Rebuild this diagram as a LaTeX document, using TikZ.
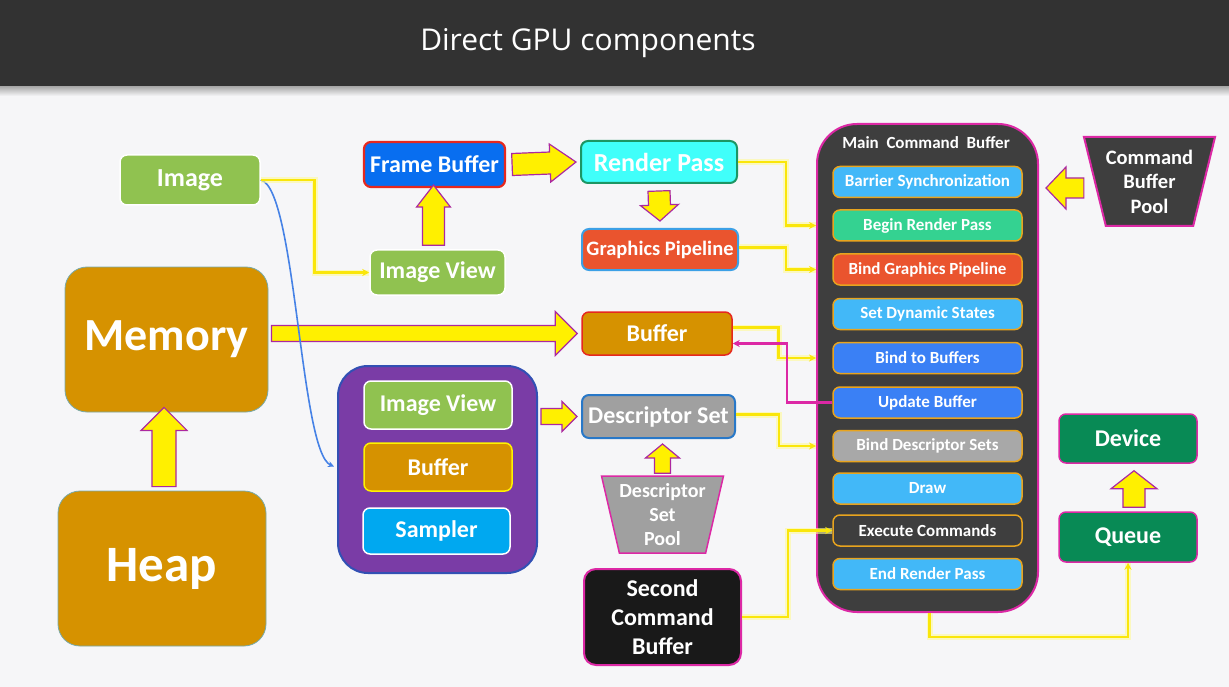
\documentclass[tikz,border=0pt]{standalone}
\usepackage{fontspec}
\setmainfont{Carlito}
\newfontfamily\titlefont{Open Sans}
\usepackage{xcolor}
\usetikzlibrary{
    arrows.meta,
    shapes,
    positioning,
    calc
}
\definecolor{pagebg}{RGB}{246,246,248}
\definecolor{titlebar}{RGB}{50,50,50}
\definecolor{imggreen}{RGB}{144,194,80}
\definecolor{gold}{RGB}{214,146,0}
\definecolor{fbblue}{RGB}{8,110,240}
\definecolor{rpcyan}{RGB}{64,255,250}
\definecolor{rpgreen}{RGB}{28,150,100}
\definecolor{gpred}{RGB}{234,84,46}
\definecolor{gpblue}{RGB}{60,160,230}
\definecolor{redline}{RGB}{230,40,30}
\definecolor{grpurple}{RGB}{122,60,166}
\definecolor{grblue}{RGB}{50,80,180}
\definecolor{smpblue}{RGB}{0,168,240}
\definecolor{dsgray}{RGB}{160,160,160}
\definecolor{dsblue}{RGB}{40,120,200}
\definecolor{cmdgray}{RGB}{62,62,62}
\definecolor{pink}{RGB}{220,40,165}
\definecolor{itemline}{RGB}{232,164,30}
\definecolor{itemsky}{RGB}{66,184,248}
\definecolor{itemgreen}{RGB}{52,210,145}
\definecolor{itemblue}{RGB}{58,128,245}
\definecolor{itemgray}{RGB}{168,168,168}
\definecolor{devgreen}{RGB}{8,138,85}
\definecolor{fatyellow}{RGB}{255,240,0}
\definecolor{fatline}{RGB}{172,40,160}
\definecolor{feedyellow}{RGB}{250,230,10}
\definecolor{curveblue}{RGB}{70,130,230}
\definecolor{memline}{RGB}{120,170,170}

\newcommand{\fsz}[1]{\fontsize{#1}{#1}\selectfont}
% block arrow: tail, tip, shaft half width, head half width, head length
\newcommand{\fatarrow}[5]{%
    \draw[fat] let \p1=#1, \p2=#2,
        \n1={atan2(\y2-\y1,\x2-\x1)}, \n2={veclen(\x2-\x1,\y2-\y1)} in
        {[shift={(\p1)}, rotate=\n1]
        (0,-#3) -- ({\n2-#5},-#3) -- ({\n2-#5},-#4) -- (\n2,0)
        -- ({\n2-#5},#4) -- ({\n2-#5},#3) -- (0,#3) -- cycle};
}

\tikzset{%
    >={Stealth[width=7pt,length=7pt]},
    % Specifications for style of nodes:
    plain/.style = {},
    base/.style = {
        plain,
        rectangle, rounded corners=7pt, draw=white, line width=1.5pt,
        text centered, font=\bfseries, text=white,
        fill=white, align=center, inner sep=0pt
    },
    green/.style = {base, fill=imggreen},
    golden/.style = {base, fill=gold, draw=memline, line width=.8pt, rounded corners=22pt},
    item/.style = {base, draw=itemline, minimum width=189pt, minimum height=31pt,
        font=\bfseries\fsz{17}},
    pool/.style = {base, trapezium, shape border rotate=180, draw=pink,
        trapezium stretches=true, rounded corners=0pt},
    gpu/.style = {base, fill=devgreen, draw=pink, minimum width=138pt,
        minimum height=49pt, font=\bfseries\fsz{24}},
    % Specifications for style of connectors:
    fat/.style = {draw=fatline, fill=fatyellow, line width=1.2pt},
    feed/.style = {draw=feedyellow, line width=2.6pt, ->,
        preaction={draw=yellow!40, line width=6pt, -, opacity=.6}}
}

\begin{document}
\begin{tikzpicture}[x=1pt, y=-1pt]
    \useasboundingbox (0,0) rectangle (1229,687);
    \fill[pagebg] (0,0) rectangle (1229,687);
    \shade[top color=black!35, bottom color=pagebg] (0,86) rectangle (1229,96);
    \fill[titlebar] (0,0) rectangle (1229,86);
    \node[text=white, font=\titlefont\fsz{30}] (title) at (588,43) {Direct GPU components};

    % sources of images and memory
    \node[green, minimum width=140pt, minimum height=50pt, font=\bfseries\fsz{26}] (img) at (190,180) {Image};
    \node[green, minimum width=135pt, minimum height=45pt, font=\bfseries\fsz{24}] (iv) at (437.5,272.5) {Image View};
    \node[base, fill=fbblue, draw=redline, line width=2.2pt, minimum width=141pt, minimum height=45pt, font=\bfseries\fsz{24}] (fb) at (434.5,164.5) {Frame Buffer};
    \node[golden, minimum width=203pt, minimum height=145pt, font=\bfseries\fsz{46}] (mem) at (166.5,339.5) {Memory};
    \node[golden, minimum width=208pt, minimum height=155pt, font=\bfseries\fsz{51}] (heap) at (162,568.5) {Heap};

    % render objects
    \node[base, fill=rpcyan, draw=rpgreen, line width=2pt, minimum width=156pt, minimum height=42pt, font=\bfseries\fsz{26}] (rp) at (659,162) {Render Pass};
    \node[base, fill=gpred, draw=gpblue, line width=2pt, minimum width=156pt, minimum height=41pt, font=\bfseries\fsz{20.5}] (gp) at (660,249.5) {Graphics Pipeline};
    \node[base, fill=gold, draw=redline, minimum width=150pt, minimum height=43pt, font=\bfseries\fsz{24}] (buf) at (657,333.5) {Buffer};

    % descriptor contents
    \node[base, fill=grpurple, draw=grblue, line width=2pt, rounded corners=30pt, minimum width=199pt, minimum height=207pt] (grp) at (437.5,469.5) {};
    \node[green, minimum width=148pt, minimum height=48pt, font=\bfseries\fsz{24}] (giv) at (438,405) {Image View};
    \node[base, fill=gold, draw=yellow, minimum width=148pt, minimum height=48pt, font=\bfseries\fsz{24}] (gbuf) at (438,467) {Buffer};
    \node[base, fill=smpblue, minimum width=147pt, minimum height=46pt, font=\bfseries\fsz{24}] (gsmp) at (436.5,531) {Sampler};
    \node[base, fill=dsgray, draw=dsblue, line width=2pt, minimum width=153pt, minimum height=43pt, font=\bfseries\fsz{24}] (ds) at (658.5,416.5) {Descriptor Set};
    \node[pool, fill=dsgray, trapezium angle=74, minimum width=119pt, minimum height=77pt, font=\bfseries\fsz{20}] (dsp) at (662.5,514.5) {Descriptor\\[4pt]Set\\[4pt]Pool};
    \node[base, fill=black!90, draw=pink, line width=2pt, rounded corners=12pt, minimum width=157pt, minimum height=96pt, font=\bfseries\fsz{24}] (scb) at (662.5,617) {Second\\[5pt]Command\\[5pt]Buffer};

    % main command buffer
    \node[base, fill=cmdgray, draw=pink, line width=2pt, rounded corners=40pt, minimum width=221pt, minimum height=488pt] (mcb) at (927.5,368) {};
    \node[text=white, font=\bfseries\fsz{17}] (mcbt) at (926,143) {Main \ Command \ Buffer};
    \node[item, fill=itemsky] (bs) at (927.5,182) {Barrier Synchronization};
    \node[item, fill=itemgreen] (brp) at (927.5,225.5) {Begin Render Pass};
    \node[item, fill=gpred] (bgp) at (927.5,269.5) {Bind Graphics Pipeline};
    \node[item, fill=itemsky] (sds) at (927.5,314) {Set Dynamic States};
    \node[item, fill=itemblue] (btb) at (927.5,358) {Bind to Buffers};
    \node[item, fill=itemblue] (upd) at (927.5,402.5) {Update Buffer};
    \node[item, fill=itemgray] (bds) at (927.5,446) {Bind Descriptor Sets};
    \node[item, fill=itemsky] (drw) at (927.5,488.5) {Draw};
    \node[item, fill=cmdgray] (exe) at (927.5,530.5) {Execute Commands};
    \node[item, fill=itemsky] (erp) at (927.5,574) {End Render Pass};
    \node[pool, fill=cmdgray, line width=2pt, trapezium angle=71, minimum width=123pt, minimum height=89pt, font=\bfseries\fsz{20.5}] (cbp) at (1149.5,181.5) {Command\\[4pt]Buffer\\[4pt]Pool};

    % device side
    \node[gpu] (dev) at (1128,438.5) {Device};
    \node[gpu, minimum height=50pt] (que) at (1128,537) {Queue};

    % block arrows
    \fatarrow{($(fb.east)+(6,0)$)}{($(rp.west)+(-4,0)$)}{11}{19}{26}
    \fatarrow{($(iv.north)+(-4,-4)$)}{($(fb.south)+(-1,-3)$)}{11}{17}{22}
    \fatarrow{($(rp.south)+(0,7)$)}{($(gp.north)+(0,-7)$)}{11}{19}{16}
    \fatarrow{($(mem.east |- buf.west)+(3,0)$)}{($(buf.west)+(-4,0)$)}{8}{22}{22}
    \fatarrow{($(heap.north)+(2,-4)$)}{($(mem.south)+(-2.5,-5)$)}{12}{23}{23}
    \fatarrow{($(grp.east |- ds.west)+(3,0)$)}{($(ds.west)+(-4,0)$)}{8}{15}{15}
    \fatarrow{($(dsp.north)+(0,-2)$)}{($(dsp.north |- ds.south)+(0,5)$)}{8}{17}{14}
    \fatarrow{($(cbp.west |- bs.east)+(-10,6)$)}{($(mcb.east |- bs.east)+(7,6)$)}{10}{21}{20}
    \fatarrow{($(que.north)+(6,-4)$)}{($(dev.south)+(6,7)$)}{11}{23}{18}

    % thin connectors
    \draw[curveblue, line width=1.6pt, -{Stealth[width=6pt,length=6pt]}] (img.east) .. controls (296,188) and (300,452) .. ($(grp.west)+(-3,-3)$);
    \draw[feed] (img.east) -- ++(54,0) |- (iv.west);
    \draw[feed] (rp.east) -- ++(48,0) |- (mcb.west |- brp.west);
    \draw[feed] ($(gp.east)+(0,-2)$) -- ++(47,0) |- (mcb.west |- bgp.west);
    \draw[feed] ($(buf.east)+(0,-6)$) -- ++(46,0) |- (mcb.west |- btb.west);
    \draw[pink, line width=2.2pt, ->] (upd.west) -- ++(-45,0) |- ($(buf.east)+(0,10)$);
    \draw[feed] ($(ds.east)+(0,-2)$) -- ++(43,0) |- (mcb.west |- bds.west);
    \draw[feed] (scb.east) -- ++(46,0) |- (exe.west);
    \draw[feed] ($(mcb.south)+(2,0)$) -- ++(0,24) -| (que.south);
\end{tikzpicture}
\end{document}
